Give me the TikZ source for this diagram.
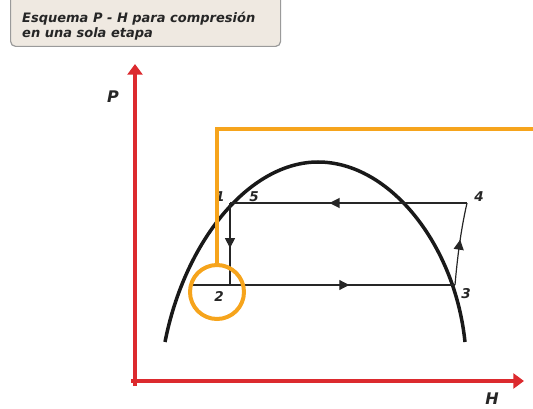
\documentclass[tikz,border=0pt]{standalone}
\usepackage{fontspec}
\setsansfont{DejaVu Sans}
\usetikzlibrary{arrows.meta,decorations.markings}
\definecolor{axred}{HTML}{DC2A2E}
\definecolor{orng}{HTML}{F6A41C}
\definecolor{boxfill}{HTML}{EFE9E1}
\definecolor{boxline}{HTML}{9A9A9A}
\begin{document}
\begin{tikzpicture}[x=1pt,y=-1pt,
  lbl/.style={font=\sffamily\bfseries\itshape\fontsize{13.5}{15}\selectfont, text=black!85, inner sep=0pt},
  axis/.style={draw=axred, line width=4pt, -{Triangle[angle=70:1pt 3]}, line cap=butt},
  thin/.style={draw=black!85, line width=1.2pt},
  midarrow/.style={postaction={decorate}, decoration={markings, mark=at position #1 with {\arrow{Triangle[length=10pt,width=10pt]}}}},
  orange/.style={draw=orng, line width=4pt}]
\useasboundingbox (0,0) rectangle (533,409);
% title box
\node[draw=boxline, line width=1.2pt, fill=boxfill, rounded corners=5pt, minimum width=270pt, minimum height=57pt, anchor=south west, inner sep=0pt] (title) at (10,47) {};
\node[anchor=north west, font=\sffamily\bfseries\itshape\fontsize{13}{14.5}\selectfont, text=black!85, align=left, inner sep=0pt] (ttext) at (22,12) {Esquema P - H para compresión\\en una sola etapa};
% axes
\coordinate (o) at (131,381);
\coordinate (ytip) at (135,64);
\coordinate (xtip) at (524,381);
\draw[axis] (135,386) -- (ytip);
\draw[axis] (o) -- (xtip);
\node[lbl, font=\sffamily\bfseries\itshape\fontsize{16}{18}\selectfont] (P) at (113,97) {P};
\node[lbl, font=\sffamily\bfseries\itshape\fontsize{16}{18}\selectfont] (H) at (492,399) {H};
% dome
\coordinate (dl) at (165,342);
\coordinate (dt) at (318,162);
\coordinate (dr) at (465,342);
\draw[black!90, line width=3.5pt] (dl) .. controls (185,240) and (250,162) .. (dt) .. controls (390,162) and (455,245) .. (dr);
% cycle points
\coordinate (p1) at (230,203);
\coordinate (p2) at (230,285);
\coordinate (p3) at (455,285);
\coordinate (p4) at (467,203);
\coordinate (bl) at (190,285);
\draw[thin, midarrow=0.58] (p4) -- (p1);
\draw[thin, midarrow=0.55] (p1) -- (p2);
\draw[thin] (bl) -- (p2);
\draw[thin, midarrow=0.53] (p2) -- (p3);
\draw[thin, midarrow=0.55] (p3) .. controls (458,250) and (462,225) .. (p4);
\node[lbl] (l1) at (220,197) {1};
\node[lbl] (l5) at (254,197) {5};
\node[lbl] (l4) at (479,197) {4};
\node[lbl] (l3) at (466,294) {3};
\node[lbl] (l2) at (219,296) {2};
% orange
\node[orange, circle, minimum size=54pt, inner sep=0pt] (circ) at (217,292) {};
\coordinate (oc) at (217,129);
\coordinate (oe) at (533,129);
\draw[orange, line cap=butt] (circ.north) -- (oc) -- (oe);
\end{tikzpicture}
\end{document}
